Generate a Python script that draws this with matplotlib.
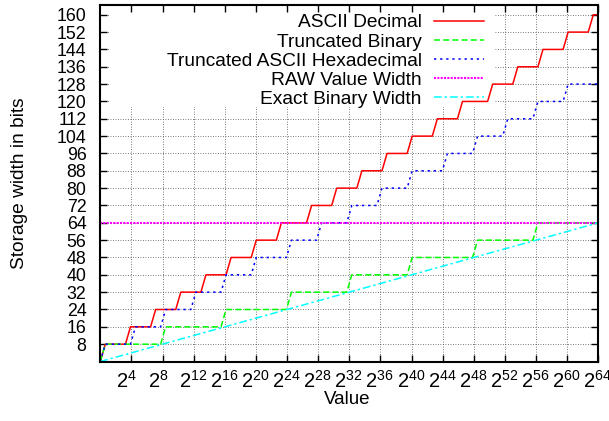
import numpy as np
import matplotlib
matplotlib.use('Agg')
import matplotlib.pyplot as plt
import matplotlib.transforms as mtransforms
from matplotlib.patches import Rectangle

plt.rcParams['font.family'] = ['Liberation Sans', 'DejaVu Sans']
plt.rcParams['mathtext.fontset'] = 'custom'
plt.rcParams['mathtext.rm'] = 'Liberation Sans'
plt.rcParams['mathtext.it'] = 'Liberation Sans:italic'

# step points (log2 of the value) where each width jumps, and the widths in bits
dec_edges = [0, 3.32, 6.64, 9.97, 13.29, 16.61, 19.93, 23.25, 26.58, 29.90,
             33.22, 36.54, 39.86, 43.19, 46.51, 49.83, 53.15, 56.47, 59.79, 63.12]
dec_bits = [0, 8, 16, 24, 32, 40, 48, 56, 64, 72, 80,
            88, 96, 104, 112, 120, 128, 136, 144, 152, 160]
bin_edges = [0, 8, 16, 24, 32, 40, 48, 56]
bin_bits = [0, 8, 16, 24, 32, 40, 48, 56, 64]
hex_edges = [0, 4, 8, 12, 16, 20, 24, 28, 32, 36, 40, 44, 48, 52, 56, 60]
hex_bits = [0, 8, 16, 24, 32, 40, 48, 56, 64, 72, 80, 88, 96, 104, 112, 120, 128]
raw_x = [0, 64]
raw_bits = [64, 64]
exact_x = [0, 64]
exact_bits = [0, 64]

x_ticks = [4, 8, 12, 16, 20, 24, 28, 32, 36, 40, 44, 48, 52, 56, 60, 64]
x_labels = ['$2^{%d}$' % t for t in x_ticks]
y_ticks = [8, 16, 24, 32, 40, 48, 56, 64, 72, 80, 88, 96, 104, 112, 120, 128,
           136, 144, 152, 160]

# gnuplot-style sampling (100 samples over the x range)
xs = np.linspace(0, 64, 100)
dec = np.array(dec_bits)[np.searchsorted(dec_edges, xs)]
bnr = np.array(bin_bits)[np.searchsorted(bin_edges, xs)]
hx = np.array(hex_bits)[np.searchsorted(hex_edges, xs)]

fig = plt.figure(figsize=(6.09, 4.21), dpi=100)
ax = fig.add_axes([100.3 / 609, 59.5 / 421, 498 / 609, 356.5 / 421])
ax.set_xlim(0, 64)
ax.set_ylim(0, 164.5)

# grid behind everything, partly hidden by the key box
ax.vlines(x_ticks[:-1], 0, 164.5, colors='0.3', linestyles=(0, (1, 2)), lw=0.6, zorder=0.5)
ax.hlines(y_ticks, 0, 64, colors='0.3', linestyles=(0, (1, 2)), lw=0.6, zorder=0.5)
ax.add_patch(Rectangle((1.3, 117.5), 49.4, 50, fc='white', ec='none', zorder=0.8))

ax.plot(xs, dec, color='#ff0000', lw=1.1, label='ASCII Decimal', zorder=2)
ax.plot(xs, bnr, color='#00ff00', lw=1.1, dashes=(4, 2), label='Truncated Binary', zorder=2)
ax.plot(xs, hx, color='#0000ff', lw=1.1, dashes=(1.5, 2.5), label='Truncated ASCII Hexadecimal', zorder=2)
ax.plot(raw_x, raw_bits, color='#ff00ff', lw=1.5, dashes=(1, 0.6), label='RAW Value Width', zorder=2)
ax.plot(exact_x, exact_bits, color='#00ffff', lw=1.1, dashes=(5, 2, 1.5, 2), label='Exact Binary Width', zorder=2)

# x tick labels drawn as texts so they can sit slightly left of the tick, like gnuplot
ax.set_xticks(x_ticks)
ax.set_xticklabels([])
shift = mtransforms.ScaledTranslation(-15 / 100, -8 / 100, fig.dpi_scale_trans)
for t, lab in zip(x_ticks, x_labels):
    ax.text(t, 0, lab, transform=ax.get_xaxis_transform() + shift,
            ha='left', va='top', fontsize=14.5, clip_on=False)

ax.set_yticks(y_ticks)
ax.tick_params(direction='in', length=5, width=1, top=True, right=True)
ax.tick_params(axis='y', pad=10, labelsize=12.8)
for s in ax.spines.values():
    s.set_linewidth(1.5)

ax.legend(loc='upper right', bbox_to_anchor=(484 / 609, 1 - 14 / 421),
          bbox_transform=fig.transFigure, frameon=False, markerfirst=False,
          fontsize=13.8, borderpad=0, borderaxespad=0, handlelength=2.6,
          handletextpad=0.65, labelspacing=0.09)

fig.text(20 / 609, 1 - 183 / 421, 'Storage width in bits', rotation=90,
         ha='center', va='center', fontsize=13.8)
fig.text(347 / 609, 1 - 400 / 421, 'Value', ha='center', va='center', fontsize=13.5)

plt.savefig('out.png', dpi=100)
